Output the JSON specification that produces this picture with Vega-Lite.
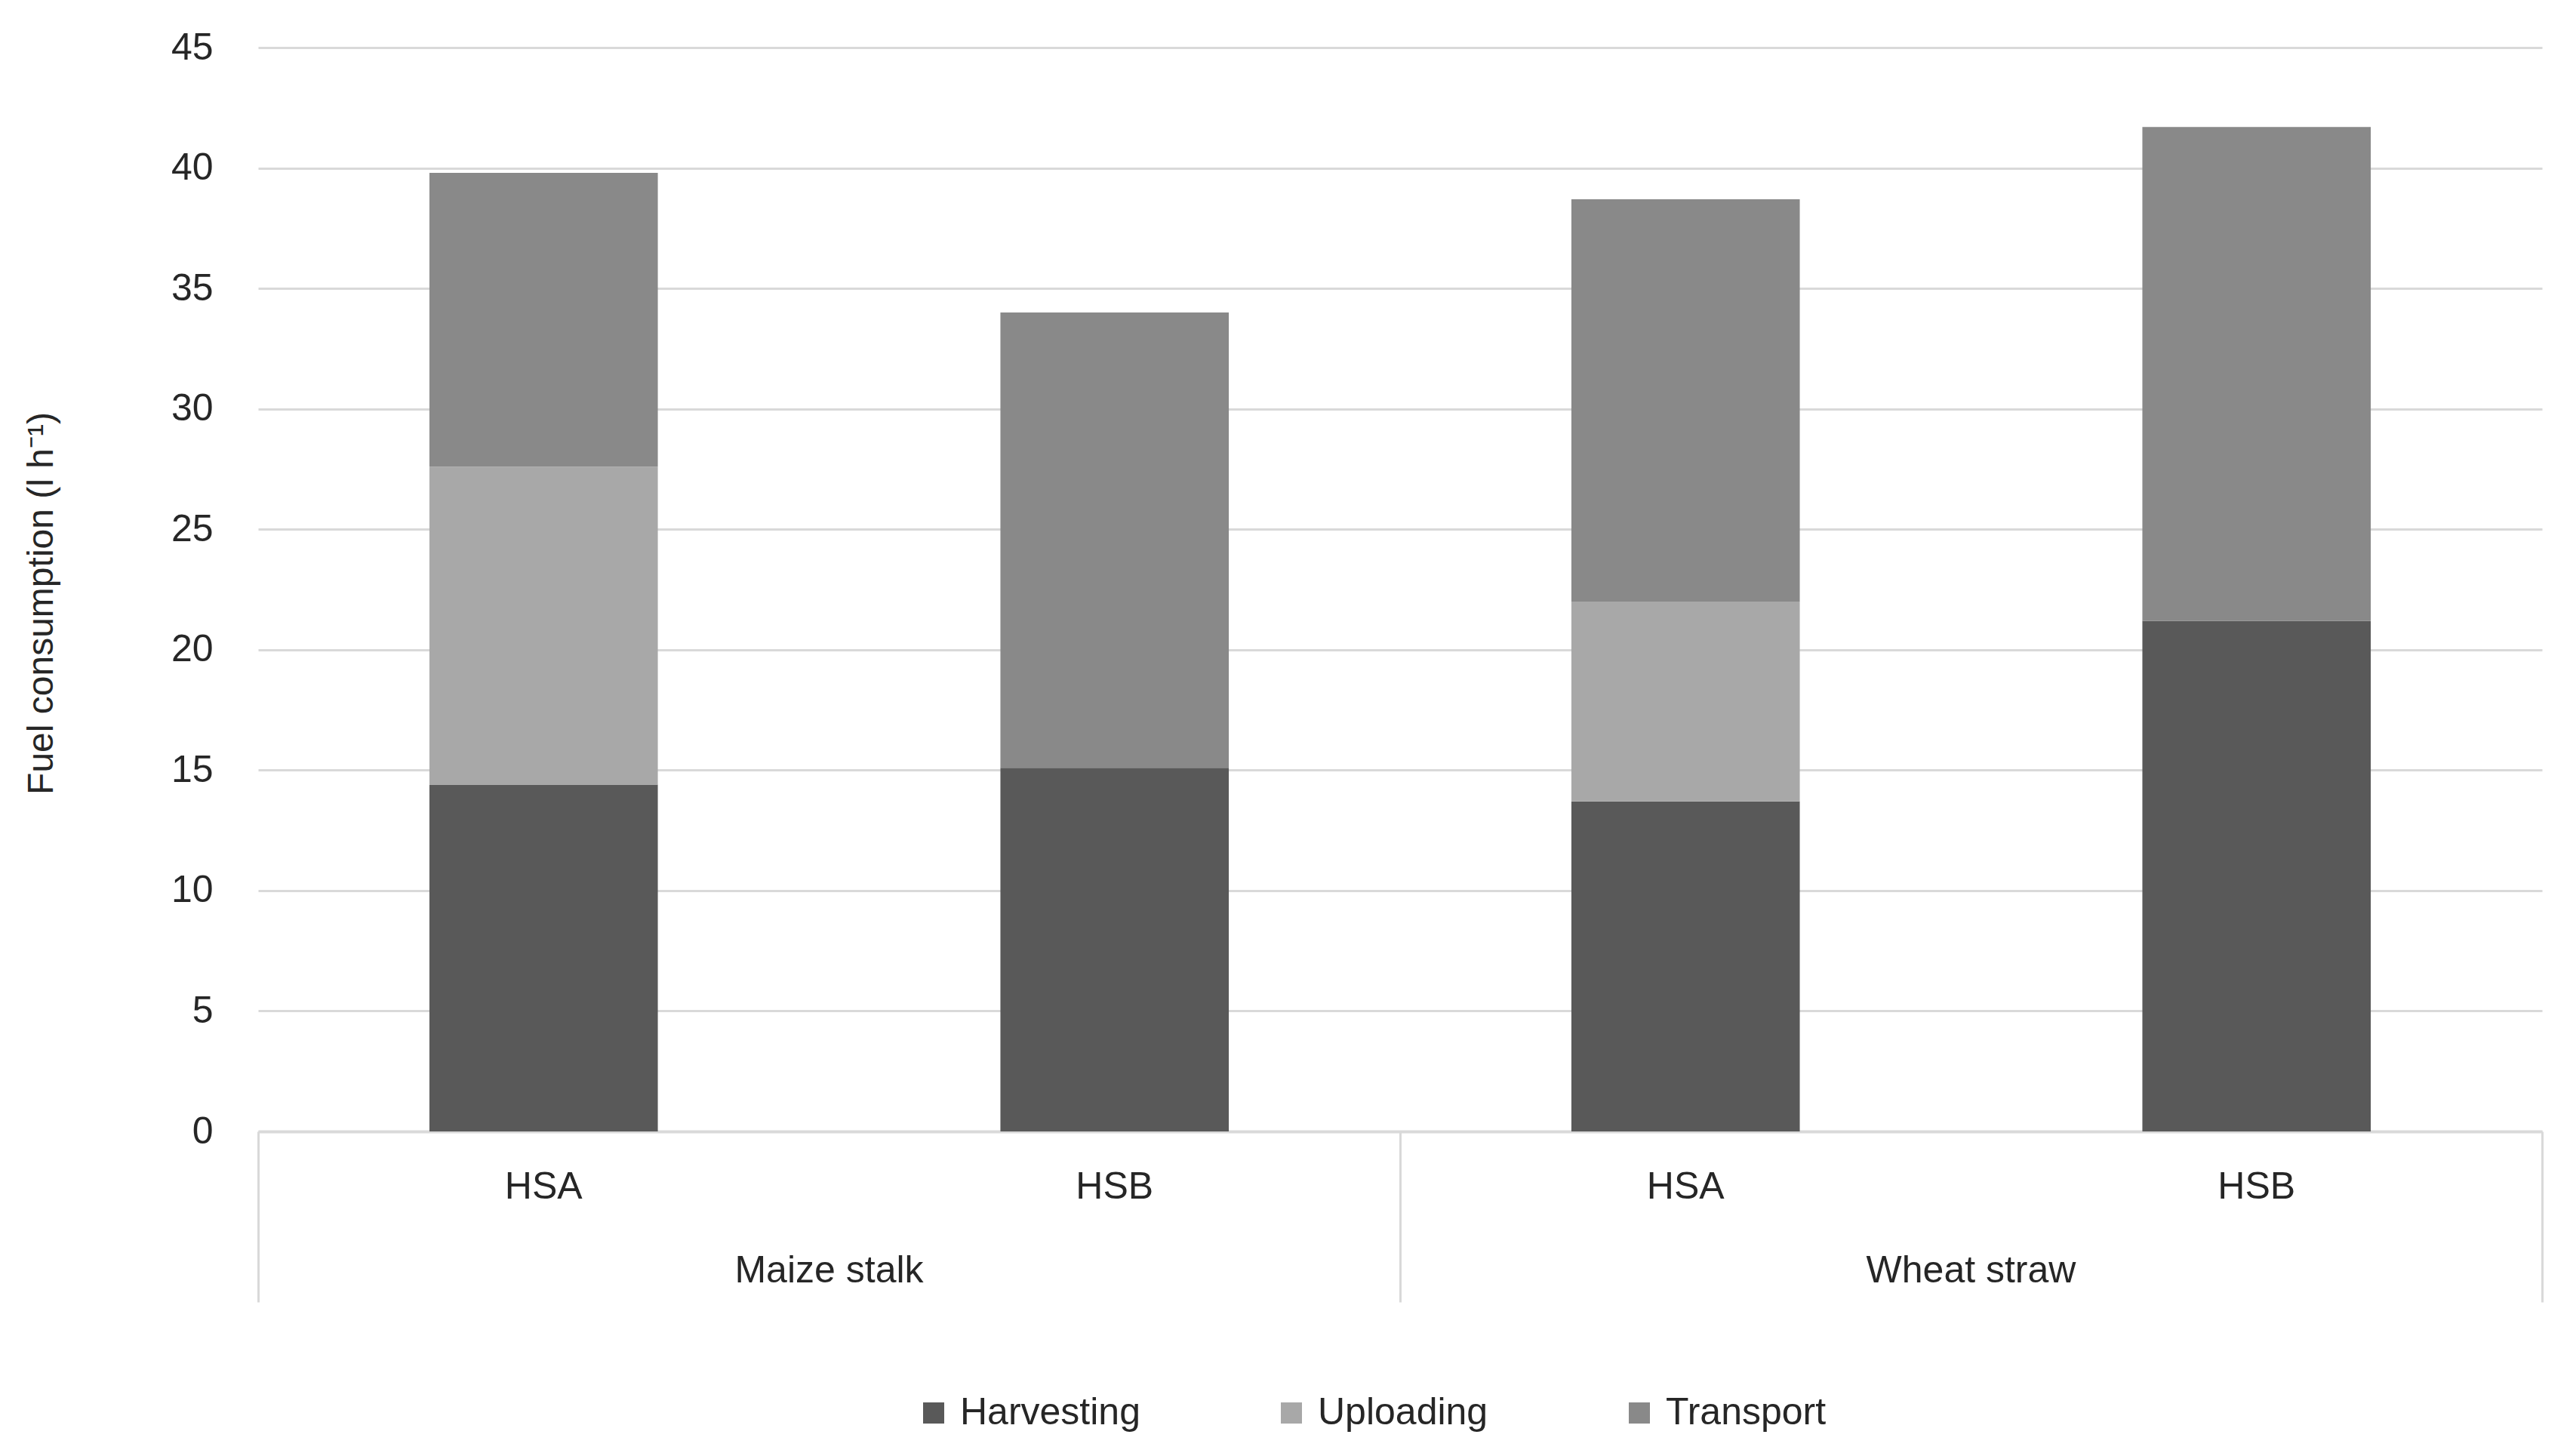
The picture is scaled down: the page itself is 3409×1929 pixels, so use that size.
{
  "$schema": "https://vega.github.io/schema/vega-lite/v6.json",
  "width": 3026,
  "height": 1436,
  "autosize": {"type": "none"},
  "padding": {"left": 342, "top": 63, "right": 41, "bottom": 430},
  "background": "white",
  "config": {
    "view": {"stroke": null},
    "font": "Liberation Sans"
  },
  "data": {
    "values": [
      {"crop": "Maize stalk", "method": "HSA", "bar": "Maize stalk HSA", "stage": "Harvesting", "order": 1, "value": 14.4},
      {"crop": "Maize stalk", "method": "HSA", "bar": "Maize stalk HSA", "stage": "Uploading", "order": 2, "value": 13.2},
      {"crop": "Maize stalk", "method": "HSA", "bar": "Maize stalk HSA", "stage": "Transport", "order": 3, "value": 12.2},
      {"crop": "Maize stalk", "method": "HSB", "bar": "Maize stalk HSB", "stage": "Harvesting", "order": 1, "value": 15.1},
      {"crop": "Maize stalk", "method": "HSB", "bar": "Maize stalk HSB", "stage": "Uploading", "order": 2, "value": 0},
      {"crop": "Maize stalk", "method": "HSB", "bar": "Maize stalk HSB", "stage": "Transport", "order": 3, "value": 18.9},
      {"crop": "Wheat straw", "method": "HSA", "bar": "Wheat straw HSA", "stage": "Harvesting", "order": 1, "value": 13.7},
      {"crop": "Wheat straw", "method": "HSA", "bar": "Wheat straw HSA", "stage": "Uploading", "order": 2, "value": 8.3},
      {"crop": "Wheat straw", "method": "HSA", "bar": "Wheat straw HSA", "stage": "Transport", "order": 3, "value": 16.7},
      {"crop": "Wheat straw", "method": "HSB", "bar": "Wheat straw HSB", "stage": "Harvesting", "order": 1, "value": 21.2},
      {"crop": "Wheat straw", "method": "HSB", "bar": "Wheat straw HSB", "stage": "Uploading", "order": 2, "value": 0},
      {"crop": "Wheat straw", "method": "HSB", "bar": "Wheat straw HSB", "stage": "Transport", "order": 3, "value": 20.5}
    ]
  },
  "layer": [
    {
      "mark": {"type": "bar"},
      "encoding": {
        "x": {
          "field": "bar",
          "type": "nominal",
          "scale": {"paddingInner": 0.6, "paddingOuter": 0.3},
          "axis": {
            "orient": "bottom",
            "title": null,
            "labelExpr": "slice(datum.label, -3)",
            "labelAngle": 0,
            "ticks": false,
            "tickSize": 0,
            "labelPadding": 73,
            "labelBaseline": "middle",
            "labelFontSize": 50,
            "labelLimit": 1000,
            "labelColor": "#262626",
            "domainColor": "#d9d9d9",
            "domainWidth": 4,
            "grid": false
          }
        },
        "y": {
          "field": "value",
          "type": "quantitative",
          "stack": "zero",
          "scale": {"domain": [0, 45], "nice": false},
          "axis": {
            "title": "Fuel consumption (l h⁻¹)",
            "values": [0, 5, 10, 15, 20, 25, 30, 35, 40, 45],
            "ticks": false,
            "domain": false,
            "gridColor": "#d9d9d9",
            "gridWidth": 3,
            "labelPadding": 60,
            "labelFontSize": 50,
            "labelColor": "#262626",
            "titleFontSize": 48,
            "titleFontWeight": "normal",
            "titleColor": "#262626",
            "titleX": -287,
            "titleY": 736,
            "titleAngle": 270,
            "titleAlign": "center",
            "titleBaseline": "middle",
            "titleLimit": 2000
          }
        },
        "color": {
          "field": "stage",
          "type": "nominal",
          "scale": {
            "domain": ["Harvesting", "Uploading", "Transport"],
            "range": ["#595959", "#a8a8a8", "#898989"]
          },
          "legend": {
            "title": null,
            "orient": "none",
            "legendX": 870,
            "legendY": 1784,
            "direction": "horizontal",
            "symbolType": "square",
            "symbolSize": 784,
            "symbolStrokeWidth": 0,
            "labelFontSize": 50,
            "labelLimit": 1000,
            "labelColor": "#262626",
            "labelOffset": 10,
            "columnPadding": 175
          }
        },
        "order": {"field": "order", "type": "quantitative"}
      }
    },
    {
      "mark": {"type": "rule", "opacity": 0},
      "encoding": {
        "x": {
          "field": "crop",
          "type": "nominal",
          "scale": {"paddingInner": 0, "paddingOuter": 0},
          "axis": {
            "orient": "bottom",
            "title": null,
            "labelAngle": 0,
            "domain": false,
            "grid": false,
            "ticks": true,
            "tickSize": 226,
            "tickColor": "#d9d9d9",
            "tickWidth": 3,
            "bandPosition": 1,
            "tickExtra": true,
            "labelPadding": -42,
            "labelBaseline": "middle",
            "labelFontSize": 50,
            "labelLimit": 1000,
            "labelColor": "#262626"
          }
        }
      }
    }
  ],
  "resolve": {"scale": {"x": "independent"}, "axis": {"x": "independent"}}
}
